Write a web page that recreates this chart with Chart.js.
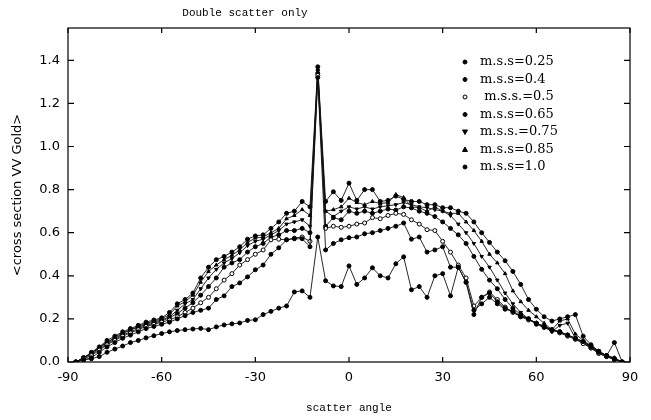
<!DOCTYPE html>
<html>
<head>
<meta charset="utf-8">
<script src="https://cdn.jsdelivr.net/npm/chart.js@4.4.1/dist/chart.umd.min.js"></script>
<style>
  body { margin: 0; background: #fff; }
  canvas { display: block; }
</style>
</head>
<body>
<canvas id="chart" width="651" height="420"></canvas>
<script>
// scatter angle (deg)
var angles = [-87.5, -85, -82.5, -80, -77.5, -75, -72.5, -70, -67.5, -65,
  -62.5, -60, -57.5, -55, -52.5, -50, -47.5, -45, -42.5, -40,
  -37.5, -35, -32.5, -30, -27.5, -25, -22.5, -20, -17.5, -15,
  -12.5, -10, -7.5, -5, -2.5, 0, 2.5, 5, 7.5, 10,
  12.5, 15, 17.5, 20, 22.5, 25, 27.5, 30, 32.5, 35,
  37.5, 40, 42.5, 45, 47.5, 50, 52.5, 55, 57.5, 60,
  62.5, 65, 67.5, 70, 72.5, 75, 77.5, 80, 82.5, 85,
  87.5];

var mss025 = [0.0, 0.01, 0.015, 0.025, 0.045, 0.06, 0.074, 0.09, 0.1, 0.112,
  0.122, 0.132, 0.14, 0.146, 0.15, 0.153, 0.156, 0.15, 0.163, 0.172,
  0.177, 0.181, 0.193, 0.196, 0.22, 0.235, 0.25, 0.26, 0.325, 0.33,
  0.30, 0.58, 0.377, 0.353, 0.35, 0.446, 0.36, 0.39, 0.437, 0.40,
  0.39, 0.456, 0.488, 0.335, 0.35, 0.30, 0.40, 0.41, 0.307, 0.44,
  0.37, 0.24, 0.27, 0.30, 0.27, 0.245, 0.235, 0.21, 0.2, 0.18,
  0.165, 0.15, 0.14, 0.125, 0.11, 0.095, 0.075, 0.05, 0.03, 0.015,
  0.0];
var mss04 = [0.0, 0.01, 0.02, 0.045, 0.07, 0.09, 0.11, 0.125, 0.14, 0.155,
  0.165, 0.175, 0.185, 0.2, 0.215, 0.23, 0.24, 0.25, 0.29, 0.307,
  0.35, 0.367, 0.395, 0.428, 0.45, 0.5, 0.53, 0.567, 0.572, 0.572,
  0.535, 1.32, 0.52, 0.55, 0.567, 0.577, 0.58, 0.595, 0.6, 0.61,
  0.62, 0.63, 0.645, 0.57, 0.58, 0.51, 0.52, 0.535, 0.44, 0.44,
  0.37, 0.22, 0.30, 0.32, 0.28, 0.25, 0.235, 0.215, 0.2, 0.18,
  0.165, 0.15, 0.14, 0.125, 0.11, 0.095, 0.07, 0.045, 0.03, 0.015,
  0.0];
var mss05 = [0.0, 0.015, 0.03, 0.055, 0.08, 0.1, 0.12, 0.135, 0.15, 0.165,
  0.175, 0.185, 0.195, 0.21, 0.23, 0.25, 0.275, 0.30, 0.34, 0.38,
  0.41, 0.45, 0.475, 0.5, 0.52, 0.567, 0.57, 0.567, 0.575, 0.58,
  0.56, 1.33, 0.62, 0.63, 0.625, 0.63, 0.64, 0.645, 0.67, 0.665,
  0.68, 0.69, 0.685, 0.66, 0.64, 0.614, 0.61, 0.56, 0.51, 0.45,
  0.39, 0.26, 0.30, 0.325, 0.29, 0.255, 0.23, 0.21, 0.195, 0.18,
  0.165, 0.15, 0.135, 0.12, 0.105, 0.085, 0.065, 0.04, 0.025, 0.01,
  0.0];
var mss065 = [0.0, 0.02, 0.035, 0.06, 0.085, 0.105, 0.125, 0.14, 0.155, 0.17,
  0.18, 0.19, 0.205, 0.225, 0.25, 0.275, 0.31, 0.35, 0.39, 0.44,
  0.46, 0.475, 0.51, 0.535, 0.55, 0.58, 0.59, 0.61, 0.61, 0.62,
  0.60, 1.34, 0.63, 0.67, 0.66, 0.70, 0.69, 0.70, 0.69, 0.70,
  0.71, 0.705, 0.72, 0.715, 0.70, 0.69, 0.675, 0.65, 0.62, 0.59,
  0.55, 0.49, 0.43, 0.38, 0.34, 0.29, 0.25, 0.22, 0.2, 0.175,
  0.16, 0.145, 0.14, 0.125, 0.11, 0.09, 0.065, 0.04, 0.025, 0.015,
  0.0];
var mss075 = [0.0, 0.02, 0.04, 0.065, 0.09, 0.11, 0.13, 0.15, 0.16, 0.175,
  0.185, 0.195, 0.21, 0.24, 0.27, 0.29, 0.34, 0.39, 0.43, 0.46,
  0.48, 0.507, 0.54, 0.56, 0.57, 0.59, 0.61, 0.64, 0.65, 0.66,
  0.63, 1.35, 0.70, 0.675, 0.70, 0.72, 0.71, 0.72, 0.71, 0.72,
  0.725, 0.73, 0.74, 0.73, 0.72, 0.716, 0.707, 0.70, 0.68, 0.64,
  0.60, 0.55, 0.49, 0.44, 0.38, 0.32, 0.27, 0.23, 0.2, 0.18,
  0.165, 0.14, 0.17, 0.18, 0.11, 0.09, 0.07, 0.045, 0.025, 0.015,
  0.0];
var mss085 = [0.0, 0.02, 0.04, 0.07, 0.09, 0.115, 0.135, 0.15, 0.165, 0.18,
  0.19, 0.2, 0.22, 0.26, 0.28, 0.31, 0.37, 0.42, 0.45, 0.475,
  0.495, 0.52, 0.555, 0.575, 0.58, 0.6, 0.62, 0.665, 0.68, 0.707,
  0.68, 1.36, 0.70, 0.707, 0.72, 0.76, 0.74, 0.73, 0.745, 0.735,
  0.74, 0.777, 0.763, 0.72, 0.716, 0.70, 0.72, 0.70, 0.69, 0.69,
  0.65, 0.61, 0.56, 0.50, 0.46, 0.41, 0.33, 0.28, 0.24, 0.21,
  0.18, 0.15, 0.19, 0.2, 0.13, 0.1, 0.075, 0.045, 0.03, 0.02,
  0.0];
var mss10 = [0.0, 0.02, 0.045, 0.07, 0.1, 0.12, 0.14, 0.155, 0.17, 0.185,
  0.195, 0.205, 0.23, 0.27, 0.29, 0.32, 0.39, 0.44, 0.475, 0.49,
  0.51, 0.535, 0.57, 0.585, 0.59, 0.62, 0.65, 0.69, 0.70, 0.745,
  0.72, 1.37, 0.745, 0.79, 0.75, 0.83, 0.75, 0.80, 0.80, 0.745,
  0.75, 0.77, 0.755, 0.745, 0.745, 0.73, 0.73, 0.716, 0.716, 0.70,
  0.69, 0.65, 0.60, 0.555, 0.51, 0.47, 0.42, 0.36, 0.29, 0.245,
  0.21, 0.19, 0.2, 0.21, 0.22, 0.12, 0.08, 0.05, 0.03, 0.09,
  0.0];

var seriesLabels = ['m.s.s=0.25', 'm.s.s=0.4', ' m.s.s.=0.5', 'm.s.s=0.65', 'm.s.s.=0.75', 'm.s.s=0.85', 'm.s.s=1.0'];
var seriesValues = [mss025, mss04, mss05, mss065, mss075, mss085, mss10];
var xTicks = [-90, -60, -30, 0, 30, 60, 90];
var yTicks = [0, 0.2, 0.4, 0.6, 0.8, 1.0, 1.2, 1.4];

var pointStyles = ['circle', 'circle', 'circle', 'circle', 'triangle', 'triangle', 'circle'];
var pointFills = ['#000', '#000', '#fff', '#000', '#000', '#000', '#000'];
var pointRot = [0, 0, 0, 0, 180, 0, 0];

var datasets = seriesLabels.map(function(lbl, i) {
    return {
        label: lbl,
        data: angles.map(function(a, j) { return {x: a, y: seriesValues[i][j]}; }),
        borderColor: '#111',
        borderWidth: 0.9,
        pointStyle: pointStyles[i],
        pointRotation: pointRot[i],
        pointRadius: 2,
        pointBorderWidth: 1,
        pointBackgroundColor: pointFills[i],
        pointBorderColor: '#000',
        tension: 0,
        fill: false
    };
});

var extras = {
    id: 'extras',
    afterDraw: function(chart) {
        var ctx = chart.ctx, a = chart.chartArea;
        var xs = chart.scales.x, ys = chart.scales.y;
        ctx.save();
        ctx.strokeStyle = '#000';
        ctx.lineWidth = 1.2;
        ctx.strokeRect(a.left, a.top, a.right - a.left, a.bottom - a.top);
        ctx.beginPath();
        xTicks.forEach(function(v) {
            var p = xs.getPixelForValue(v);
            ctx.moveTo(p, a.bottom); ctx.lineTo(p, a.bottom - 5);
            ctx.moveTo(p, a.top); ctx.lineTo(p, a.top + 5);
        });
        yTicks.forEach(function(v) {
            var p = ys.getPixelForValue(v);
            ctx.moveTo(a.left, p); ctx.lineTo(a.left + 6, p);
            ctx.moveTo(a.right, p); ctx.lineTo(a.right - 6, p);
        });
        ctx.stroke();

        // title
        ctx.fillStyle = '#000';
        ctx.font = '11px "Liberation Mono"';
        ctx.textAlign = 'center';
        ctx.textBaseline = 'middle';
        ctx.fillText('Double scatter only', 245, 13);

        // legend
        ctx.font = '13px "DejaVu Serif"';
        ctx.textAlign = 'left';
        chart.data.datasets.forEach(function(ds, i) {
            var y = 62 + i * 17.5;
            ctx.beginPath();
            if (ds.pointStyle === 'triangle') {
                var s = ds.pointRotation ? -1 : 1;
                ctx.moveTo(465, y - 2.5 * s);
                ctx.lineTo(467.5, y + 2 * s);
                ctx.lineTo(462.5, y + 2 * s);
                ctx.closePath();
            } else {
                ctx.arc(465, y, 2, 0, Math.PI * 2);
            }
            ctx.fillStyle = ds.pointBackgroundColor;
            ctx.fill();
            ctx.lineWidth = 1;
            ctx.stroke();
            ctx.fillStyle = '#000';
            ctx.fillText(ds.label, 480, y);
        });
        ctx.restore();
    }
};

var ctx = document.getElementById('chart').getContext('2d');
var chart = new Chart(ctx, {
    type: 'line',
    data: { datasets: datasets },
    options: {
        responsive: false,
        animation: false,
        layout: { padding: { top: 28, right: 21, left: 0, bottom: 0 } },
        plugins: { legend: { display: false }, tooltip: { enabled: false } },
        scales: {
            x: {
                type: 'linear',
                min: -90,
                max: 90,
                afterBuildTicks: function(scale) {
                    scale.ticks = xTicks.map(function(v) { return {value: v}; });
                },
                afterFit: function(scale) { scale.height = 58; },
                grid: { display: false, drawTicks: false },
                border: { display: false },
                ticks: {
                    padding: 8,
                    color: '#000',
                    font: { family: 'DejaVu Sans', size: 13 },
                    maxRotation: 0
                },
                title: {
                    display: true,
                    text: 'scatter angle',
                    color: '#000',
                    font: { family: 'Liberation Mono', size: 11 },
                    padding: { top: 0, bottom: 5 }
                }
            },
            y: {
                min: 0,
                max: 1.55,
                afterBuildTicks: function(scale) {
                    scale.ticks = yTicks.map(function(v) { return {value: v}; });
                },
                afterFit: function(scale) { scale.width = 68; },
                grid: { display: false, drawTicks: false },
                border: { display: false },
                ticks: {
                    padding: 8,
                    color: '#000',
                    font: { family: 'DejaVu Sans', size: 13 },
                    callback: function(v) { return Number(v).toFixed(1); }
                },
                title: {
                    display: true,
                    text: '<cross section VV Gold>',
                    color: '#000',
                    font: { family: 'DejaVu Sans', size: 13 },
                    padding: { top: 10, bottom: 0 }
                }
            }
        }
    },
    plugins: [extras]
});
</script>
</body>
</html>
